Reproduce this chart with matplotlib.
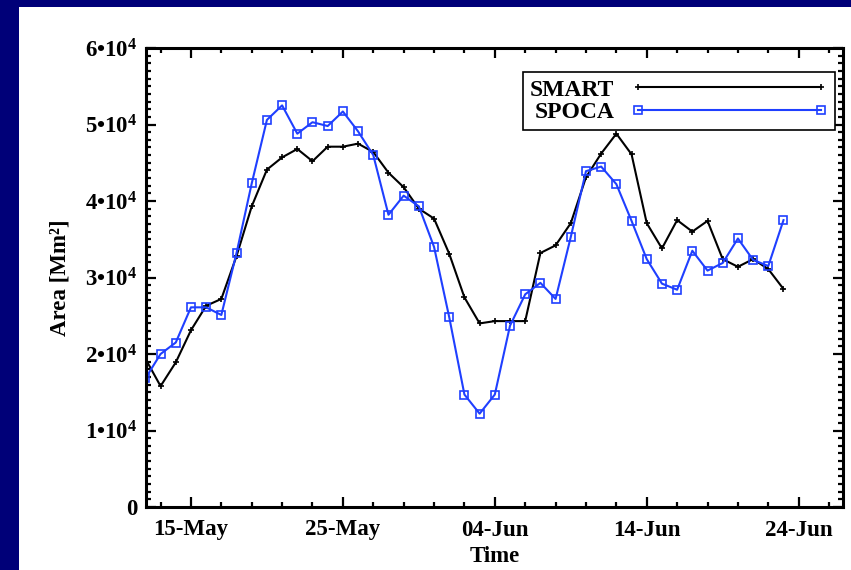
import datetime as dt
import matplotlib
matplotlib.use("Agg")
import matplotlib.pyplot as plt
import matplotlib.dates as mdates
from matplotlib.ticker import FixedLocator, MultipleLocator
from matplotlib.patches import Rectangle

plt.rcParams['font.family'] = ['Liberation Serif', 'DejaVu Serif']
plt.rcParams['font.weight'] = 'bold'
plt.rcParams['mathtext.fontset'] = 'custom'
plt.rcParams['mathtext.rm'] = 'Liberation Serif:bold'
plt.rcParams['mathtext.it'] = 'Liberation Serif:bold'
plt.rcParams['mathtext.bf'] = 'Liberation Serif:bold'

# ---------------- data ----------------
start_date = dt.datetime(2010, 5, 12)
n_days = 43
dates = [start_date + dt.timedelta(days=i) for i in range(n_days)]

smart = [1.94, 1.58, 1.89, 2.31, 2.63, 2.72, 3.28, 3.93, 4.41, 4.57,
         4.68, 4.52, 4.71, 4.71, 4.75, 4.64, 4.37, 4.18, 3.90, 3.77,
         3.31, 2.74, 2.40, 2.43, 2.43, 2.43, 3.32, 3.42, 3.71, 4.31,
         4.62, 4.88, 4.61, 3.71, 3.38, 3.75, 3.60, 3.74, 3.24, 3.14,
         3.24, 3.11, 2.85]
spoca = [1.68, 2.00, 2.15, 2.61, 2.61, 2.51, 3.32, 4.23, 5.06, 5.25,
         4.88, 5.03, 4.98, 5.17, 4.91, 4.60, 3.82, 4.07, 3.93, 3.40,
         2.48, 1.47, 1.22, 1.47, 2.37, 2.78, 2.93, 2.72, 3.53, 4.39,
         4.45, 4.22, 3.74, 3.24, 2.92, 2.84, 3.35, 3.09, 3.19, 3.51,
         3.23, 3.15, 3.75]
smart = [v * 1e4 for v in smart]
spoca = [v * 1e4 for v in spoca]

series_names = ['SMART', 'SPOCA']
xtick_dates = [dt.datetime(2010, 5, 15), dt.datetime(2010, 5, 25),
               dt.datetime(2010, 6, 4), dt.datetime(2010, 6, 14),
               dt.datetime(2010, 6, 24)]
ytick_values = [0, 1e4, 2e4, 3e4, 4e4, 5e4, 6e4]
ytick_labels = ['0', '1•10$^{\\mathregular{4}}$', '2•10$^{\\mathregular{4}}$',
                '3•10$^{\\mathregular{4}}$', '4•10$^{\\mathregular{4}}$',
                '5•10$^{\\mathregular{4}}$', '6•10$^{\\mathregular{4}}$']

# ---------------- figure ----------------
W, H = 851, 570
fig = plt.figure(figsize=(W / 100, H / 100), dpi=100)
fig.patch.set_facecolor('#000078')
panel = Rectangle((19 / W, 0), 1 - 19 / W, (H - 7) / H,
                  transform=fig.transFigure, facecolor='white',
                  edgecolor='none', zorder=-10)
fig.patches.append(panel)

L, R, T, B = 146, 843, 48, 507
ax = fig.add_axes([L / W, (H - B) / H, (R - L) / W, (B - T) / H])
ax.set_zorder(5)
ax.set_facecolor('white')

blue = '#1f3fff'
ax.plot(dates, smart, color='black', lw=1.5, marker='+', markersize=5,
        markeredgewidth=1.2, label=series_names[0])
ax.plot(dates, spoca, color=blue, lw=1.5, marker='s', markersize=6,
        markerfacecolor='none', markeredgecolor=blue, markeredgewidth=1.2,
        label=series_names[1])

ax.set_xlim(dt.datetime(2010, 5, 12, 1), dt.datetime(2010, 6, 26, 22))
ax.set_ylim(0, 6e4)

ax.xaxis.set_major_locator(FixedLocator(mdates.date2num(xtick_dates)))
ax.xaxis.set_major_formatter(mdates.DateFormatter('%d-%b'))
ax.xaxis.set_minor_locator(mdates.DayLocator(interval=2))
ax.yaxis.set_major_locator(FixedLocator(ytick_values))
ax.set_yticklabels(ytick_labels)
ax.yaxis.set_minor_locator(MultipleLocator(1000))

for s in ax.spines.values():
    s.set_linewidth(2.2)
ax.tick_params(which='both', direction='in', top=True, right=True,
               width=1.6, labelsize=16.5)
ax.tick_params(which='major', length=7, pad=9)
ax.tick_params(which='minor', length=3.5)
ax.tick_params(axis='y', which='major', pad=6)
for lab in ax.get_xticklabels() + ax.get_yticklabels():
    lab.set_fontweight('bold')

ax.set_xlabel('Time', fontsize=16.5, fontweight='bold')
ax.xaxis.set_label_coords(0.5, -0.085)
ax.set_ylabel('Area [Mm²]', fontsize=16.5, fontweight='bold')
ax.yaxis.label.set_va('center')
ax.yaxis.set_label_coords((60 - L) / (R - L), 0.5)

leg = ax.legend(loc='upper right', bbox_to_anchor=(835 / W, (H - 72) / H),
                bbox_transform=fig.transFigure, borderaxespad=0,
                markerfirst=False, numpoints=2, handlelength=8.35,
                handletextpad=0.7, labelspacing=0.05, borderpad=0.3,
                fancybox=False, framealpha=1, edgecolor='black',
                prop={'family': 'Liberation Serif', 'weight': 'bold', 'size': 17})
leg.get_frame().set_linewidth(1.2)

fig.savefig('out.png', dpi=100, facecolor=fig.get_facecolor())
